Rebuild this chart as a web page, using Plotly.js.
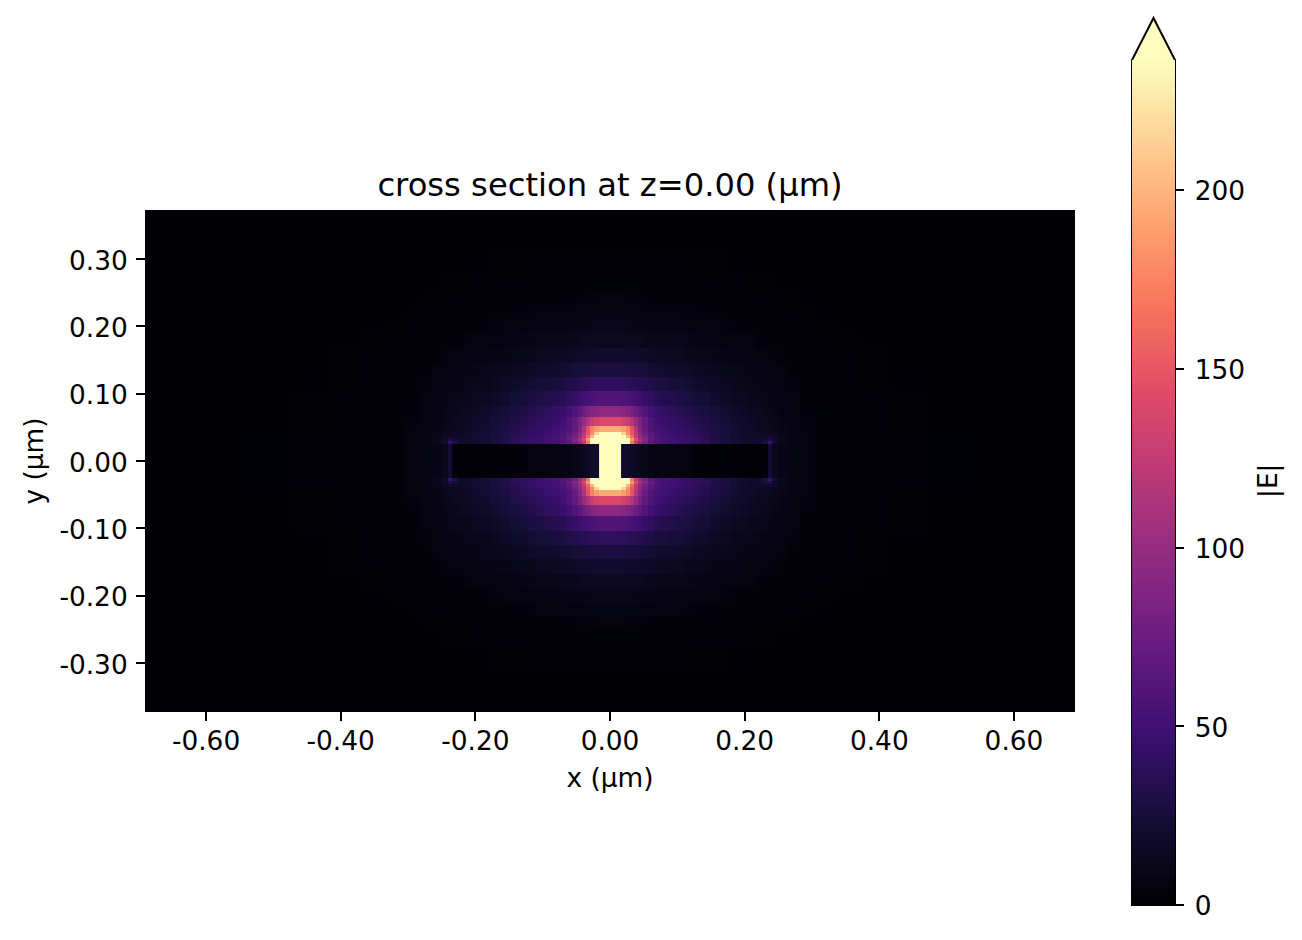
<!DOCTYPE html>
<html><head><meta charset="utf-8">
<script src="https://cdn.plot.ly/plotly-3.0.1.min.js"></script>
<style>html,body{margin:0;padding:0;background:#fff}#g{width:1302px;height:940px}</style>
</head><body><div id="g"></div>
<script>
// Cell edges (µm) of the upper-right quadrant
const xEdgesRight = [0.0163,0.0238,0.0297,0.0356,0.0416,0.0475,0.0564,0.0653,0.0743,0.0861,0.0980,0.1099,0.1218,0.1337,0.1485,0.1634,0.1782,0.1931,0.2050,0.2154,0.2258,0.2347,0.2406,0.2495,0.2644,0.2822,0.3045,0.3342,0.3713,0.4159,0.4753,0.5495,0.6906];
const yEdgesTop = [0.0252,0.0297,0.0342,0.0386,0.0431,0.0520,0.0653,0.0817,0.1040,0.1248,0.1456,0.1678,0.1901,0.2109,0.2302,0.2495,0.2763,0.3119,0.3728];
// |E| per cell, quadrant rows from y=0 outward, columns from x=0 outward
const row00 = [300,20,18,16,14,12,10,8,7,6,5.5,5,4.5,4,3.5,3,2.8,2.5,2.2,2,2,3,22,12,8,6,4.5,3.5,2.5,1.8,1.2,0.8,0.4];
const row01 = [300,290,240,170,125,100,80,66,58,53,50,47,44,41,38,32,28,24,21,19,18,30,48,20,11,7,5,3.5,2.5,1.8,1.2,0.8,0.4];
const row02 = [300,300,250,185,140,110,88,72,60,54,50,47,44,41,37,31,27,23,21,19,18,22,30,19,11,7,5,3.5,2.5,1.8,1.2,0.8,0.4];
const row03 = [300,260,200,160,125,100,82,68,58,53,49,46,43,40,36,30,26,23,20,18,17,19,20,16,11,7,5,3.5,2.5,1.8,1.2,0.8,0.4];
const row04 = [300,215,180,150,120,95,78,65,56,51,48,45,42,39,35,30,26,22,20,18,16,16,15,13,10,7,5,3.5,2.5,1.8,1.2,0.8,0.4];
const row05 = [195,188,175,148,115,90,72,60,54,49,46,43,40,37,33,29,25,22,19,17,15,14,13,11,9,6.5,4.5,3.2,2.3,1.6,1.1,0.7,0.35];
const row06 = [140,135,128,115,100,85,70,58,50,46,43,40,37,34,31,27,23,20,18,16,14,13,12,10,8,6,4.2,3,2.1,1.5,1,0.7,0.35];
const row07 = [95,92,88,82,76,68,60,52,46,42,39,36,33,30,27,24,21,18,16,14,13,12,11,9,7.5,5.5,4,2.8,2,1.4,0.95,0.6,0.3];
const row08 = [60,58,56,54,52,48,44,40,36,34,32,30,28,25,23,20,17,15,13,12,11,10,9,8,6.5,5,3.5,2.5,1.8,1.2,0.85,0.55,0.3];
const row09 = [40,39,38,37,36,35,33,31,28,27,25,24,22,20,18,16,14,12,11,10,9,8,7.5,6.5,5.5,4.2,3,2.2,1.6,1.1,0.75,0.5,0.25];
const row10 = [28,27,27,26,26,25,24,22,21,20,19,18,17,15,14,12.5,11,10,9,8,7,6.5,6,5,4.5,3.5,2.6,1.9,1.4,1,0.65,0.45,0.22];
const row11 = [20,20,19,19,18,18,17,16,15,14.5,14,13,12,11,10,9,8,7,6.5,6,5.5,5,4.7,4.2,3.5,2.8,2.2,1.6,1.2,0.85,0.55,0.38,0.2];
const row12 = [14,14,14,13.5,13,13,12,12,11,10.5,10,9.5,9,8,7.5,6.7,5.8,5.2,4.8,4.5,4,3.7,3.5,3.2,2.7,2.2,1.8,1.3,1,0.7,0.45,0.32,0.17];
const row13 = [9.5,9.5,9.5,9,9,9,8.5,8,7.5,7.2,6.9,6.5,6.2,5.7,5.2,4.7,4.2,3.8,3.5,3.2,3,2.8,2.6,2.4,2,1.7,1.4,1,0.8,0.55,0.38,0.26,0.14];
const row14 = [6.5,6.5,6.5,6.3,6.2,6,5.8,5.5,5.2,5,4.8,4.5,4.3,4,3.6,3.3,3,2.7,2.5,2.3,2.1,2,1.9,1.7,1.5,1.3,1,0.8,0.6,0.45,0.3,0.2,0.12];
const row15 = [4.5,4.5,4.4,4.3,4.2,4.1,4,3.8,3.6,3.5,3.4,3.2,3,2.8,2.5,2.3,2.1,1.9,1.8,1.7,1.5,1.4,1.4,1.3,1.1,0.95,0.8,0.6,0.45,0.35,0.25,0.17,0.1];
const row16 = [2.8,2.8,2.7,2.7,2.6,2.6,2.5,2.4,2.3,2.3,2.2,2,2,1.9,1.7,1.6,1.4,1.3,1.2,1.1,1,1,0.95,0.9,0.8,0.7,0.55,0.45,0.35,0.27,0.2,0.14,0.08];
const row17 = [1.6,1.6,1.6,1.5,1.5,1.5,1.4,1.4,1.3,1.3,1.3,1.2,1.2,1.1,1,0.95,0.85,0.8,0.75,0.7,0.65,0.6,0.6,0.55,0.5,0.45,0.38,0.3,0.25,0.2,0.15,0.1,0.06];
const row18 = [0.6,0.6,0.6,0.6,0.6,0.55,0.55,0.55,0.5,0.5,0.5,0.45,0.45,0.45,0.4,0.4,0.36,0.34,0.32,0.3,0.28,0.27,0.26,0.25,0.22,0.2,0.18,0.15,0.12,0.1,0.08,0.06,0.04];
const quadrantRows = [row00,row01,row02,row03,row04,row05,row06,row07,row08,row09,row10,row11,row12,row13,row14,row15,row16,row17,row18];

const magmaStops = ['#000004','#140e36','#3b0f70','#641a80','#8c2981','#b73779','#de4968','#f7705c','#fe9f6d','#fecf92','#fcfdbf'];
const axisTicks = [-0.6,-0.4,-0.2,0,0.2,0.4,0.6];
const axisTickText = ['-0.60','-0.40','-0.20','0.00','0.20','0.40','0.60'];
const yTicks = [-0.3,-0.2,-0.1,0,0.1,0.2,0.3];
const yTickText = ['-0.30','-0.20','-0.10','0.00','0.10','0.20','0.30'];
const barTicks = [0,50,100,150,200];
const barMax = 236.4;

// The field is mirror-symmetric: left/bottom are the read quadrant reflected
const mirrorEdges = e => e.slice().reverse().map(v => -v).concat(e);
const mirrorRow = r => r.slice(1).reverse().concat(r);
const halfRows = quadrantRows.map(mirrorRow);
const z = halfRows.slice(1).reverse().concat(halfRows);

const scale = magmaStops.map((c,i) => [i/(magmaStops.length-1), c]);

// pixel helpers for placement (plot rectangle sits inside the 2px frame)
const W=1302,H=940,L=147,R=1073,T=212,B=710;
const px = v => (v-L)/(R-L), py = v => (B-v)/(B-T);

const font = {family:'"DejaVu Sans", sans-serif', color:'#000', size:26.4};
const axisCommon = {showline:true, mirror:true, linecolor:'#000', linewidth:2, ticks:'outside', ticklen:9, tickwidth:2, tickcolor:'#000', showgrid:false, zeroline:false, fixedrange:true, tickfont:font, tickmode:'array'};

const data = [{
  type:'heatmap', x:mirrorEdges(xEdgesRight), y:mirrorEdges(yEdgesTop), z:z,
  zmin:0, zmax:barMax, zauto:false, zsmooth:false, colorscale:scale, hoverinfo:'skip',
  colorbar:{
    thickness:43, thicknessmode:'pixels', len:845/(B-T), lenmode:'fraction',
    xref:'paper', yref:'paper', x:px(1132), xanchor:'left', xpad:0,
    y:py(905), yanchor:'bottom', ypad:0,
    outlinewidth:0, borderwidth:0,
    ticks:'outside', ticklen:9, tickwidth:2, tickcolor:'#000',
    tickmode:'array', tickvals:barTicks, ticktext:barTicks.map(String), tickfont:font
  }
}];

const layout = {
  width:W, height:H, autosize:false, paper_bgcolor:'#fff', plot_bgcolor:'#000',
  margin:{l:L,r:W-R,t:T,b:H-B,pad:0}, font:font,
  title:{text:'cross section at z=0.00 (µm)', font:{family:font.family,size:32.2,color:'#000'}, xref:'paper', x:0.5, xanchor:'center', yref:'container', y:(H-185)/H, yanchor:'middle'},
  xaxis:Object.assign({},axisCommon,{range:[-0.6877,0.6877], tickvals:axisTicks, ticktext:axisTickText, ticklabelstandoff:-3, title:{text:'x (µm)', font:font, standoff:14}}),
  yaxis:Object.assign({},axisCommon,{range:[-0.3698,0.3698], tickvals:yTicks, ticktext:yTickText, ticklabelstandoff:3, title:{text:'y (µm)', font:font, standoff:8}}),
  annotations:[{text:'|E|', xref:'paper', yref:'paper', x:px(1268), y:py(481), showarrow:false, textangle:-90, font:font, xanchor:'center', yanchor:'middle'}],
  shapes:[
    {type:'path', xref:'paper', yref:'paper', layer:'above',
     path:`M ${px(1132)} ${py(61)} L ${px(1153.5)} ${py(18)} L ${px(1175)} ${py(61)} Z`,
     fillcolor:magmaStops[10], line:{width:0}},
    {type:'path', xref:'paper', yref:'paper', layer:'above',
     path:`M ${px(1132)} ${py(905)} L ${px(1132)} ${py(60)} L ${px(1153.5)} ${py(18)} L ${px(1175)} ${py(60)} L ${px(1175)} ${py(905)} Z`,
     fillcolor:'rgba(0,0,0,0)', line:{color:'#000',width:2}}
  ]
};
Plotly.newPlot('g', data, layout, {displayModeBar:false, staticPlot:true}).then(() => {
  // Nudge tick labels to the reference's baselines and colour-bar label gap
  document.querySelectorAll('.colorbar .cbaxis text').forEach(t => { t.setAttribute('dx', 6); t.setAttribute('dy', 1); });
  document.querySelectorAll('.subplot .ytick text, .yaxislayer-above .ytick text').forEach(t => t.setAttribute('dy', 1.5));
});
</script></body></html>
